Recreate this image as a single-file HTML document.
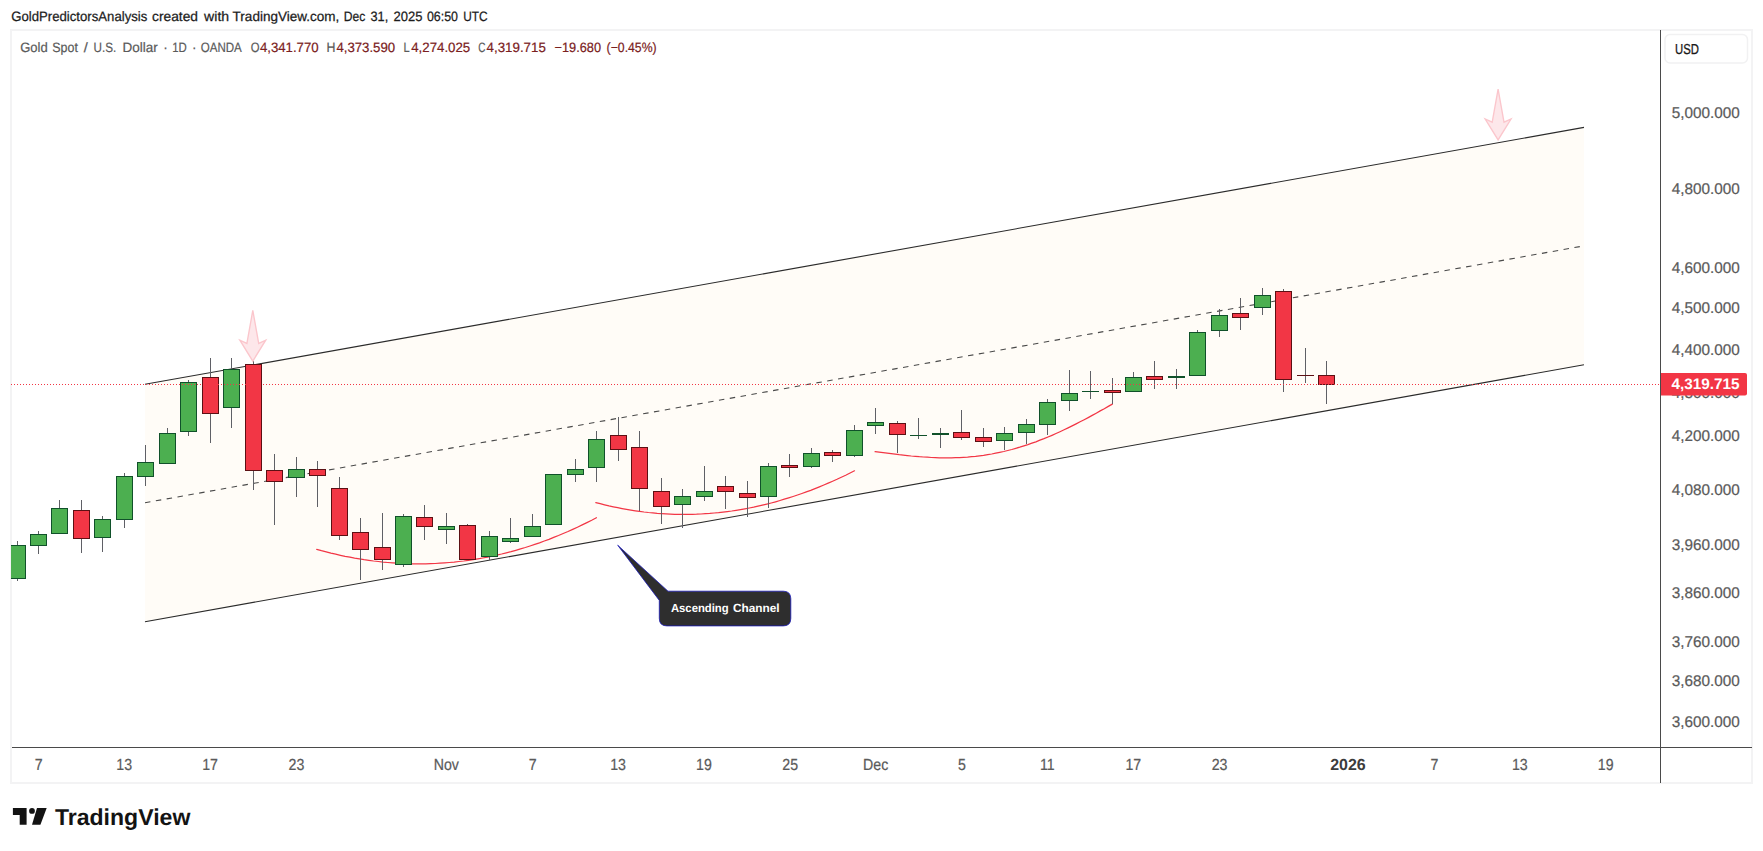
<!DOCTYPE html><html><head><meta charset="utf-8"><title>Gold Spot / U.S. Dollar chart</title><style>html,body{margin:0;padding:0;background:#fff;overflow:hidden}body{width:1763px;height:851px;position:relative}</style></head><body>
<svg width="1763" height="851" viewBox="0 0 1763 851" style="position:absolute;left:0;top:0;font-family:'Liberation Sans',sans-serif;text-rendering:geometricPrecision">
<rect x="0" y="0" width="1763" height="851" fill="#fff"/>
<rect x="11" y="30" width="1741" height="753" fill="none" stroke="#f3f3f4" stroke-width="2"/>
<defs><clipPath id="pane"><rect x="11" y="31" width="1649" height="716"/></clipPath></defs>
<g clip-path="url(#pane)">
<polygon points="145.0,384.3 1584.0,127.40000000000003 1584.0,364.80000000000007 145.0,621.7" fill="#fffcf7"/>
<line x1="145.0" y1="384.3" x2="1584.0" y2="127.40000000000003" stroke="#2b2b2b" stroke-width="1.1"/>
<line x1="145.0" y1="621.7" x2="1584.0" y2="364.80000000000007" stroke="#2b2b2b" stroke-width="1.1"/>
<line x1="145.0" y1="502.75" x2="1584.0" y2="245.85000000000002" stroke="#4a4a4a" stroke-width="1.1" stroke-dasharray="5.5 5.5"/>
<path d="M316.7,549.4 L321.4,550.7 L326.2,551.9 L330.9,553.1 L335.7,554.2 L340.4,555.3 L345.1,556.3 L349.9,557.2 L354.6,558.1 L359.4,558.9 L364.1,559.7 L368.8,560.3 L373.6,561.0 L378.3,561.5 L383.1,562.1 L387.8,562.5 L392.6,562.9 L397.3,563.2 L402.0,563.4 L406.8,563.6 L411.5,563.8 L416.3,563.8 L421.0,563.8 L425.7,563.8 L430.5,563.6 L435.2,563.5 L440.0,563.2 L444.7,562.9 L449.4,562.5 L454.2,562.1 L458.9,561.5 L463.7,561.0 L468.4,560.3 L473.1,559.6 L477.9,558.8 L482.6,558.0 L487.4,557.1 L492.1,556.1 L496.8,555.1 L501.6,554.0 L506.3,552.8 L511.1,551.6 L515.8,550.3 L520.5,548.9 L525.3,547.5 L530.0,546.0 L534.8,544.4 L539.5,542.8 L544.3,541.0 L549.0,539.3 L553.7,537.4 L558.5,535.5 L563.2,533.5 L568.0,531.5 L572.7,529.4 L577.4,527.2 L582.2,524.9 L586.9,522.6 L591.7,520.2 L596.4,517.7" fill="none" stroke="#f23645" stroke-width="1.25" stroke-linecap="round"/>
<path d="M595.8,502.6 L600.2,503.7 L604.6,504.8 L609.0,505.9 L613.3,506.8 L617.7,507.7 L622.1,508.6 L626.5,509.4 L630.9,510.1 L635.3,510.8 L639.6,511.4 L644.0,512.0 L648.4,512.5 L652.8,512.9 L657.2,513.3 L661.6,513.6 L666.0,513.9 L670.3,514.1 L674.7,514.3 L679.1,514.4 L683.5,514.4 L687.9,514.4 L692.3,514.3 L696.6,514.2 L701.0,514.0 L705.4,513.7 L709.8,513.4 L714.2,513.0 L718.6,512.6 L723.0,512.1 L727.3,511.6 L731.7,511.0 L736.1,510.3 L740.5,509.6 L744.9,508.8 L749.3,508.0 L753.7,507.1 L758.0,506.1 L762.4,505.1 L766.8,504.1 L771.2,503.0 L775.6,501.8 L780.0,500.5 L784.3,499.2 L788.7,497.9 L793.1,496.5 L797.5,495.0 L801.9,493.5 L806.3,491.9 L810.7,490.3 L815.0,488.6 L819.4,486.8 L823.8,485.0 L828.2,483.2 L832.6,481.3 L837.0,479.3 L841.3,477.2 L845.7,475.2 L850.1,473.0 L854.5,470.8" fill="none" stroke="#f23645" stroke-width="1.25" stroke-linecap="round"/>
<path d="M875.1,451.7 L879.1,452.2 L883.1,452.7 L887.2,453.2 L891.2,453.7 L895.2,454.2 L899.2,454.7 L903.2,455.1 L907.3,455.6 L911.3,456.0 L915.3,456.3 L919.3,456.7 L923.3,457.0 L927.4,457.2 L931.4,457.5 L935.4,457.6 L939.4,457.8 L943.4,457.8 L947.5,457.9 L951.5,457.8 L955.5,457.7 L959.5,457.6 L963.5,457.3 L967.6,457.1 L971.6,456.7 L975.6,456.3 L979.6,455.8 L983.6,455.3 L987.7,454.6 L991.7,454.0 L995.7,453.2 L999.7,452.4 L1003.8,451.5 L1007.8,450.5 L1011.8,449.5 L1015.8,448.3 L1019.8,447.2 L1023.9,445.9 L1027.9,444.6 L1031.9,443.2 L1035.9,441.8 L1039.9,440.2 L1044.0,438.7 L1048.0,437.0 L1052.0,435.3 L1056.0,433.5 L1060.0,431.7 L1064.1,429.8 L1068.1,427.9 L1072.1,425.9 L1076.1,423.9 L1080.1,421.8 L1084.2,419.7 L1088.2,417.6 L1092.2,415.4 L1096.2,413.2 L1100.2,410.9 L1104.3,408.7 L1108.3,406.4 L1112.3,404.1" fill="none" stroke="#f23645" stroke-width="1.25" stroke-linecap="round"/>
<g shape-rendering="crispEdges">
<rect x="17" y="541" width="1" height="4" fill="#5f6066"/>
<rect x="17" y="579" width="1" height="2" fill="#5f6066"/>
<rect x="9" y="545" width="17" height="34" fill="#10512a"/>
<rect x="10" y="546" width="15" height="32" fill="#4caf50"/>
<rect x="38" y="531" width="1" height="3" fill="#5f6066"/>
<rect x="38" y="546" width="1" height="8" fill="#5f6066"/>
<rect x="30" y="534" width="17" height="12" fill="#10512a"/>
<rect x="31" y="535" width="15" height="10" fill="#4caf50"/>
<rect x="59" y="500" width="1" height="8" fill="#5f6066"/>
<rect x="51" y="508" width="17" height="26" fill="#10512a"/>
<rect x="52" y="509" width="15" height="24" fill="#4caf50"/>
<rect x="81" y="500" width="1" height="10" fill="#5f6066"/>
<rect x="81" y="539" width="1" height="14" fill="#5f6066"/>
<rect x="73" y="510" width="17" height="29" fill="#5c1014"/>
<rect x="74" y="511" width="15" height="27" fill="#f23645"/>
<rect x="102" y="516" width="1" height="3" fill="#5f6066"/>
<rect x="102" y="538" width="1" height="14" fill="#5f6066"/>
<rect x="94" y="519" width="17" height="19" fill="#10512a"/>
<rect x="95" y="520" width="15" height="17" fill="#4caf50"/>
<rect x="124" y="473" width="1" height="3" fill="#5f6066"/>
<rect x="124" y="520" width="1" height="8" fill="#5f6066"/>
<rect x="116" y="476" width="17" height="44" fill="#10512a"/>
<rect x="117" y="477" width="15" height="42" fill="#4caf50"/>
<rect x="145" y="445" width="1" height="17" fill="#5f6066"/>
<rect x="145" y="477" width="1" height="9" fill="#5f6066"/>
<rect x="137" y="462" width="17" height="15" fill="#10512a"/>
<rect x="138" y="463" width="15" height="13" fill="#4caf50"/>
<rect x="167" y="428" width="1" height="5" fill="#5f6066"/>
<rect x="159" y="433" width="17" height="31" fill="#10512a"/>
<rect x="160" y="434" width="15" height="29" fill="#4caf50"/>
<rect x="188" y="380" width="1" height="2" fill="#5f6066"/>
<rect x="188" y="432" width="1" height="4" fill="#5f6066"/>
<rect x="180" y="382" width="17" height="50" fill="#10512a"/>
<rect x="181" y="383" width="15" height="48" fill="#4caf50"/>
<rect x="210" y="358" width="1" height="19" fill="#5f6066"/>
<rect x="210" y="414" width="1" height="29" fill="#5f6066"/>
<rect x="202" y="377" width="17" height="37" fill="#5c1014"/>
<rect x="203" y="378" width="15" height="35" fill="#f23645"/>
<rect x="231" y="358" width="1" height="11" fill="#5f6066"/>
<rect x="231" y="408" width="1" height="20" fill="#5f6066"/>
<rect x="223" y="369" width="17" height="39" fill="#10512a"/>
<rect x="224" y="370" width="15" height="37" fill="#4caf50"/>
<rect x="253" y="361" width="1" height="3" fill="#5f6066"/>
<rect x="253" y="471" width="1" height="19" fill="#5f6066"/>
<rect x="245" y="364" width="17" height="107" fill="#5c1014"/>
<rect x="246" y="365" width="15" height="105" fill="#f23645"/>
<rect x="274" y="454" width="1" height="16" fill="#5f6066"/>
<rect x="274" y="482" width="1" height="43" fill="#5f6066"/>
<rect x="266" y="470" width="17" height="12" fill="#5c1014"/>
<rect x="267" y="471" width="15" height="10" fill="#f23645"/>
<rect x="296" y="457" width="1" height="12" fill="#5f6066"/>
<rect x="296" y="478" width="1" height="19" fill="#5f6066"/>
<rect x="288" y="469" width="17" height="9" fill="#10512a"/>
<rect x="289" y="470" width="15" height="7" fill="#4caf50"/>
<rect x="317" y="461" width="1" height="8" fill="#5f6066"/>
<rect x="317" y="476" width="1" height="31" fill="#5f6066"/>
<rect x="309" y="469" width="17" height="7" fill="#5c1014"/>
<rect x="310" y="470" width="15" height="5" fill="#f23645"/>
<rect x="339" y="477" width="1" height="11" fill="#5f6066"/>
<rect x="339" y="536" width="1" height="4" fill="#5f6066"/>
<rect x="331" y="488" width="17" height="48" fill="#5c1014"/>
<rect x="332" y="489" width="15" height="46" fill="#f23645"/>
<rect x="360" y="518" width="1" height="14" fill="#5f6066"/>
<rect x="360" y="550" width="1" height="30" fill="#5f6066"/>
<rect x="352" y="532" width="17" height="18" fill="#5c1014"/>
<rect x="353" y="533" width="15" height="16" fill="#f23645"/>
<rect x="382" y="513" width="1" height="34" fill="#5f6066"/>
<rect x="382" y="560" width="1" height="10" fill="#5f6066"/>
<rect x="374" y="547" width="17" height="13" fill="#5c1014"/>
<rect x="375" y="548" width="15" height="11" fill="#f23645"/>
<rect x="403" y="514" width="1" height="2" fill="#5f6066"/>
<rect x="403" y="565" width="1" height="2" fill="#5f6066"/>
<rect x="395" y="516" width="17" height="49" fill="#10512a"/>
<rect x="396" y="517" width="15" height="47" fill="#4caf50"/>
<rect x="424" y="505" width="1" height="12" fill="#5f6066"/>
<rect x="424" y="527" width="1" height="13" fill="#5f6066"/>
<rect x="416" y="517" width="17" height="10" fill="#5c1014"/>
<rect x="417" y="518" width="15" height="8" fill="#f23645"/>
<rect x="446" y="513" width="1" height="13" fill="#5f6066"/>
<rect x="446" y="530" width="1" height="14" fill="#5f6066"/>
<rect x="438" y="526" width="17" height="4" fill="#10512a"/>
<rect x="439" y="527" width="15" height="2" fill="#4caf50"/>
<rect x="467" y="524" width="1" height="1" fill="#5f6066"/>
<rect x="459" y="525" width="17" height="35" fill="#5c1014"/>
<rect x="460" y="526" width="15" height="33" fill="#f23645"/>
<rect x="489" y="531" width="1" height="5" fill="#5f6066"/>
<rect x="489" y="557" width="1" height="3" fill="#5f6066"/>
<rect x="481" y="536" width="17" height="21" fill="#10512a"/>
<rect x="482" y="537" width="15" height="19" fill="#4caf50"/>
<rect x="510" y="518" width="1" height="20" fill="#5f6066"/>
<rect x="510" y="542" width="1" height="1" fill="#5f6066"/>
<rect x="502" y="538" width="17" height="4" fill="#10512a"/>
<rect x="503" y="539" width="15" height="2" fill="#4caf50"/>
<rect x="532" y="514" width="1" height="12" fill="#5f6066"/>
<rect x="524" y="526" width="17" height="11" fill="#10512a"/>
<rect x="525" y="527" width="15" height="9" fill="#4caf50"/>
<rect x="545" y="474" width="17" height="51" fill="#10512a"/>
<rect x="546" y="475" width="15" height="49" fill="#4caf50"/>
<rect x="575" y="459" width="1" height="10" fill="#5f6066"/>
<rect x="575" y="475" width="1" height="7" fill="#5f6066"/>
<rect x="567" y="469" width="17" height="6" fill="#10512a"/>
<rect x="568" y="470" width="15" height="4" fill="#4caf50"/>
<rect x="596" y="431" width="1" height="8" fill="#5f6066"/>
<rect x="596" y="468" width="1" height="14" fill="#5f6066"/>
<rect x="588" y="439" width="17" height="29" fill="#10512a"/>
<rect x="589" y="440" width="15" height="27" fill="#4caf50"/>
<rect x="618" y="417" width="1" height="18" fill="#5f6066"/>
<rect x="618" y="450" width="1" height="11" fill="#5f6066"/>
<rect x="610" y="435" width="17" height="15" fill="#5c1014"/>
<rect x="611" y="436" width="15" height="13" fill="#f23645"/>
<rect x="639" y="431" width="1" height="16" fill="#5f6066"/>
<rect x="639" y="489" width="1" height="22" fill="#5f6066"/>
<rect x="631" y="447" width="17" height="42" fill="#5c1014"/>
<rect x="632" y="448" width="15" height="40" fill="#f23645"/>
<rect x="661" y="478" width="1" height="13" fill="#5f6066"/>
<rect x="661" y="507" width="1" height="17" fill="#5f6066"/>
<rect x="653" y="491" width="17" height="16" fill="#5c1014"/>
<rect x="654" y="492" width="15" height="14" fill="#f23645"/>
<rect x="682" y="489" width="1" height="7" fill="#5f6066"/>
<rect x="682" y="505" width="1" height="23" fill="#5f6066"/>
<rect x="674" y="496" width="17" height="9" fill="#10512a"/>
<rect x="675" y="497" width="15" height="7" fill="#4caf50"/>
<rect x="704" y="466" width="1" height="25" fill="#5f6066"/>
<rect x="704" y="497" width="1" height="4" fill="#5f6066"/>
<rect x="696" y="491" width="17" height="6" fill="#10512a"/>
<rect x="697" y="492" width="15" height="4" fill="#4caf50"/>
<rect x="725" y="476" width="1" height="10" fill="#5f6066"/>
<rect x="725" y="492" width="1" height="17" fill="#5f6066"/>
<rect x="717" y="486" width="17" height="6" fill="#5c1014"/>
<rect x="718" y="487" width="15" height="4" fill="#f23645"/>
<rect x="747" y="481" width="1" height="12" fill="#5f6066"/>
<rect x="747" y="498" width="1" height="19" fill="#5f6066"/>
<rect x="739" y="493" width="17" height="5" fill="#5c1014"/>
<rect x="740" y="494" width="15" height="3" fill="#f23645"/>
<rect x="768" y="463" width="1" height="3" fill="#5f6066"/>
<rect x="768" y="497" width="1" height="11" fill="#5f6066"/>
<rect x="760" y="466" width="17" height="31" fill="#10512a"/>
<rect x="761" y="467" width="15" height="29" fill="#4caf50"/>
<rect x="789" y="454" width="1" height="11" fill="#5f6066"/>
<rect x="789" y="468" width="1" height="9" fill="#5f6066"/>
<rect x="781" y="465" width="17" height="3" fill="#5c1014"/>
<rect x="782" y="466" width="15" height="1" fill="#f23645"/>
<rect x="811" y="448" width="1" height="5" fill="#5f6066"/>
<rect x="811" y="467" width="1" height="1" fill="#5f6066"/>
<rect x="803" y="453" width="17" height="14" fill="#10512a"/>
<rect x="804" y="454" width="15" height="12" fill="#4caf50"/>
<rect x="832" y="450" width="1" height="2" fill="#5f6066"/>
<rect x="832" y="456" width="1" height="6" fill="#5f6066"/>
<rect x="824" y="452" width="17" height="4" fill="#5c1014"/>
<rect x="825" y="453" width="15" height="2" fill="#f23645"/>
<rect x="854" y="425" width="1" height="5" fill="#5f6066"/>
<rect x="854" y="456" width="1" height="1" fill="#5f6066"/>
<rect x="846" y="430" width="17" height="26" fill="#10512a"/>
<rect x="847" y="431" width="15" height="24" fill="#4caf50"/>
<rect x="875" y="408" width="1" height="14" fill="#5f6066"/>
<rect x="875" y="426" width="1" height="8" fill="#5f6066"/>
<rect x="867" y="422" width="17" height="4" fill="#10512a"/>
<rect x="868" y="423" width="15" height="2" fill="#4caf50"/>
<rect x="897" y="421" width="1" height="2" fill="#5f6066"/>
<rect x="897" y="435" width="1" height="18" fill="#5f6066"/>
<rect x="889" y="423" width="17" height="12" fill="#5c1014"/>
<rect x="890" y="424" width="15" height="10" fill="#f23645"/>
<rect x="918" y="418" width="1" height="17" fill="#5f6066"/>
<rect x="918" y="436" width="1" height="3" fill="#5f6066"/>
<rect x="910" y="435" width="17" height="1" fill="#10512a"/>
<rect x="940" y="428" width="1" height="5" fill="#5f6066"/>
<rect x="940" y="435" width="1" height="13" fill="#5f6066"/>
<rect x="932" y="433" width="17" height="2" fill="#10512a"/>
<rect x="961" y="410" width="1" height="22" fill="#5f6066"/>
<rect x="961" y="438" width="1" height="2" fill="#5f6066"/>
<rect x="953" y="432" width="17" height="6" fill="#5c1014"/>
<rect x="954" y="433" width="15" height="4" fill="#f23645"/>
<rect x="983" y="428" width="1" height="9" fill="#5f6066"/>
<rect x="983" y="442" width="1" height="5" fill="#5f6066"/>
<rect x="975" y="437" width="17" height="5" fill="#5c1014"/>
<rect x="976" y="438" width="15" height="3" fill="#f23645"/>
<rect x="1004" y="427" width="1" height="6" fill="#5f6066"/>
<rect x="1004" y="441" width="1" height="9" fill="#5f6066"/>
<rect x="996" y="433" width="17" height="8" fill="#10512a"/>
<rect x="997" y="434" width="15" height="6" fill="#4caf50"/>
<rect x="1026" y="419" width="1" height="5" fill="#5f6066"/>
<rect x="1026" y="433" width="1" height="11" fill="#5f6066"/>
<rect x="1018" y="424" width="17" height="9" fill="#10512a"/>
<rect x="1019" y="425" width="15" height="7" fill="#4caf50"/>
<rect x="1047" y="399" width="1" height="3" fill="#5f6066"/>
<rect x="1047" y="425" width="1" height="10" fill="#5f6066"/>
<rect x="1039" y="402" width="17" height="23" fill="#10512a"/>
<rect x="1040" y="403" width="15" height="21" fill="#4caf50"/>
<rect x="1069" y="370" width="1" height="23" fill="#5f6066"/>
<rect x="1069" y="401" width="1" height="10" fill="#5f6066"/>
<rect x="1061" y="393" width="17" height="8" fill="#10512a"/>
<rect x="1062" y="394" width="15" height="6" fill="#4caf50"/>
<rect x="1090" y="371" width="1" height="20" fill="#5f6066"/>
<rect x="1090" y="392" width="1" height="7" fill="#5f6066"/>
<rect x="1082" y="391" width="17" height="1" fill="#10512a"/>
<rect x="1112" y="378" width="1" height="12" fill="#5f6066"/>
<rect x="1112" y="393" width="1" height="11" fill="#5f6066"/>
<rect x="1104" y="390" width="17" height="3" fill="#5c1014"/>
<rect x="1105" y="391" width="15" height="1" fill="#f23645"/>
<rect x="1133" y="372" width="1" height="5" fill="#5f6066"/>
<rect x="1125" y="377" width="17" height="15" fill="#10512a"/>
<rect x="1126" y="378" width="15" height="13" fill="#4caf50"/>
<rect x="1154" y="361" width="1" height="15" fill="#5f6066"/>
<rect x="1154" y="380" width="1" height="9" fill="#5f6066"/>
<rect x="1146" y="376" width="17" height="4" fill="#5c1014"/>
<rect x="1147" y="377" width="15" height="2" fill="#f23645"/>
<rect x="1176" y="369" width="1" height="7" fill="#5f6066"/>
<rect x="1176" y="378" width="1" height="11" fill="#5f6066"/>
<rect x="1168" y="376" width="17" height="2" fill="#10512a"/>
<rect x="1197" y="330" width="1" height="2" fill="#5f6066"/>
<rect x="1189" y="332" width="17" height="44" fill="#10512a"/>
<rect x="1190" y="333" width="15" height="42" fill="#4caf50"/>
<rect x="1219" y="309" width="1" height="6" fill="#5f6066"/>
<rect x="1219" y="331" width="1" height="6" fill="#5f6066"/>
<rect x="1211" y="315" width="17" height="16" fill="#10512a"/>
<rect x="1212" y="316" width="15" height="14" fill="#4caf50"/>
<rect x="1240" y="298" width="1" height="15" fill="#5f6066"/>
<rect x="1240" y="318" width="1" height="12" fill="#5f6066"/>
<rect x="1232" y="313" width="17" height="5" fill="#5c1014"/>
<rect x="1233" y="314" width="15" height="3" fill="#f23645"/>
<rect x="1262" y="288" width="1" height="7" fill="#5f6066"/>
<rect x="1262" y="308" width="1" height="7" fill="#5f6066"/>
<rect x="1254" y="295" width="17" height="13" fill="#10512a"/>
<rect x="1255" y="296" width="15" height="11" fill="#4caf50"/>
<rect x="1283" y="289" width="1" height="2" fill="#5f6066"/>
<rect x="1283" y="380" width="1" height="12" fill="#5f6066"/>
<rect x="1275" y="291" width="17" height="89" fill="#5c1014"/>
<rect x="1276" y="292" width="15" height="87" fill="#f23645"/>
<rect x="1305" y="348" width="1" height="27" fill="#5f6066"/>
<rect x="1305" y="376" width="1" height="7" fill="#5f6066"/>
<rect x="1297" y="375" width="17" height="1" fill="#5c1014"/>
<rect x="1326" y="361" width="1" height="14" fill="#5f6066"/>
<rect x="1326" y="385" width="1" height="19" fill="#5f6066"/>
<rect x="1318" y="375" width="17" height="10" fill="#5c1014"/>
<rect x="1319" y="376" width="15" height="8" fill="#f23645"/>
</g>
<line x1="11" y1="384.5" x2="1661" y2="384.5" stroke="#f23645" stroke-width="1" stroke-dasharray="1 2" shape-rendering="crispEdges"/>
<polygon points="252.8,310.3 258.7,343.4 265.7,340.2 252.8,361.1 239.9,340.2 246.9,343.4" fill="#fde7ea" stroke="#fbc6cc" stroke-width="1.35" stroke-linejoin="miter"/>
<polygon points="1498.1,89.1 1504.0,122.2 1511.0,119.0 1498.1,139.9 1485.2,119.0 1492.2,122.2" fill="#fde7ea" stroke="#fbc6cc" stroke-width="1.35" stroke-linejoin="miter"/>
<path d="M668,591.2 L617.7,545.2 L659.3,600.4000000000001 L659.3,618.4 Q659.3,625.9 666.8,625.9 L783.3,625.9 Q790.8,625.9 790.8,618.4 L790.8,598.7 Q790.8,591.2 783.3,591.2 Z" fill="#2e2e2e" stroke="#1a1ab8" stroke-width="0.8" stroke-linejoin="round"/>
<text x="670.90" y="611.7" font-size="11.8" fill="#fff" font-weight="bold" textLength="57.80" lengthAdjust="spacingAndGlyphs">Ascending</text>
<text x="732.90" y="611.7" font-size="11.8" fill="#fff" font-weight="bold" textLength="46.68" lengthAdjust="spacingAndGlyphs">Channel</text>
</g>
<g shape-rendering="crispEdges"><rect x="1660" y="30" width="1" height="753" fill="#4a4a4a"/><rect x="12" y="747" width="1740" height="1" fill="#4a4a4a"/></g>
<text x="1671.70" y="118.0" font-size="15.5" fill="#5a5a5a" stroke="#5a5a5a" stroke-width="0.22" textLength="68.12" lengthAdjust="spacingAndGlyphs">5,000.000</text>
<text x="1671.70" y="193.7" font-size="15.5" fill="#5a5a5a" stroke="#5a5a5a" stroke-width="0.22" textLength="68.12" lengthAdjust="spacingAndGlyphs">4,800.000</text>
<text x="1671.70" y="272.6" font-size="15.5" fill="#5a5a5a" stroke="#5a5a5a" stroke-width="0.22" textLength="68.12" lengthAdjust="spacingAndGlyphs">4,600.000</text>
<text x="1671.70" y="313.4" font-size="15.5" fill="#5a5a5a" stroke="#5a5a5a" stroke-width="0.22" textLength="68.12" lengthAdjust="spacingAndGlyphs">4,500.000</text>
<text x="1671.70" y="355.0" font-size="15.5" fill="#5a5a5a" stroke="#5a5a5a" stroke-width="0.22" textLength="68.12" lengthAdjust="spacingAndGlyphs">4,400.000</text>
<text x="1671.70" y="397.7" font-size="15.5" fill="#5a5a5a" stroke="#5a5a5a" stroke-width="0.22" textLength="68.12" lengthAdjust="spacingAndGlyphs">4,300.000</text>
<text x="1671.70" y="441.3" font-size="15.5" fill="#5a5a5a" stroke="#5a5a5a" stroke-width="0.22" textLength="68.12" lengthAdjust="spacingAndGlyphs">4,200.000</text>
<text x="1671.70" y="495.1" font-size="15.5" fill="#5a5a5a" stroke="#5a5a5a" stroke-width="0.22" textLength="68.12" lengthAdjust="spacingAndGlyphs">4,080.000</text>
<text x="1671.70" y="550.4" font-size="15.5" fill="#5a5a5a" stroke="#5a5a5a" stroke-width="0.22" textLength="68.12" lengthAdjust="spacingAndGlyphs">3,960.000</text>
<text x="1671.70" y="597.9" font-size="15.5" fill="#5a5a5a" stroke="#5a5a5a" stroke-width="0.22" textLength="68.12" lengthAdjust="spacingAndGlyphs">3,860.000</text>
<text x="1671.70" y="646.5" font-size="15.5" fill="#5a5a5a" stroke="#5a5a5a" stroke-width="0.22" textLength="68.12" lengthAdjust="spacingAndGlyphs">3,760.000</text>
<text x="1671.70" y="686.4" font-size="15.5" fill="#5a5a5a" stroke="#5a5a5a" stroke-width="0.22" textLength="68.12" lengthAdjust="spacingAndGlyphs">3,680.000</text>
<text x="1671.70" y="727.2" font-size="15.5" fill="#5a5a5a" stroke="#5a5a5a" stroke-width="0.22" textLength="68.12" lengthAdjust="spacingAndGlyphs">3,600.000</text>
<path d="M1661,373 H1745 Q1747,373 1747,375 V393.5 Q1747,395.5 1745,395.5 H1661 Z" fill="#f23645"/>
<text x="1671.40" y="389.2" font-size="15.2" fill="#fff" font-weight="bold" textLength="68.14" lengthAdjust="spacingAndGlyphs">4,319.715</text>
<rect x="1665" y="34.5" width="82.5" height="28.5" rx="5" ry="5" fill="#fff" stroke="#f1f1f2" stroke-width="1.5"/>
<text x="1675.11" y="53.9" font-size="14.4" fill="#1a1a1a" textLength="23.90" lengthAdjust="spacingAndGlyphs" stroke="#1a1a1a" stroke-width="0.3">USD</text>
<text x="34.83" y="770.2" font-size="16" fill="#5a5a5a" stroke="#5a5a5a" stroke-width="0.22" textLength="7.88" lengthAdjust="spacingAndGlyphs">7</text>
<text x="116.33" y="770.2" font-size="16" fill="#5a5a5a" stroke="#5a5a5a" stroke-width="0.22" textLength="15.75" lengthAdjust="spacingAndGlyphs">13</text>
<text x="202.21" y="770.2" font-size="16" fill="#5a5a5a" stroke="#5a5a5a" stroke-width="0.22" textLength="15.75" lengthAdjust="spacingAndGlyphs">17</text>
<text x="288.53" y="770.2" font-size="16" fill="#5a5a5a" stroke="#5a5a5a" stroke-width="0.22" textLength="15.75" lengthAdjust="spacingAndGlyphs">23</text>
<text x="433.71" y="770.2" font-size="16" fill="#5a5a5a" stroke="#5a5a5a" stroke-width="0.22" textLength="25.18" lengthAdjust="spacingAndGlyphs">Nov</text>
<text x="528.64" y="770.2" font-size="16" fill="#5a5a5a" stroke="#5a5a5a" stroke-width="0.22" textLength="7.88" lengthAdjust="spacingAndGlyphs">7</text>
<text x="610.14" y="770.2" font-size="16" fill="#5a5a5a" stroke="#5a5a5a" stroke-width="0.22" textLength="15.75" lengthAdjust="spacingAndGlyphs">13</text>
<text x="696.02" y="770.2" font-size="16" fill="#5a5a5a" stroke="#5a5a5a" stroke-width="0.22" textLength="15.75" lengthAdjust="spacingAndGlyphs">19</text>
<text x="782.34" y="770.2" font-size="16" fill="#5a5a5a" stroke="#5a5a5a" stroke-width="0.22" textLength="15.75" lengthAdjust="spacingAndGlyphs">25</text>
<text x="863.11" y="770.2" font-size="16" fill="#5a5a5a" stroke="#5a5a5a" stroke-width="0.22" textLength="25.18" lengthAdjust="spacingAndGlyphs">Dec</text>
<text x="958.04" y="770.2" font-size="16" fill="#5a5a5a" stroke="#5a5a5a" stroke-width="0.22" textLength="7.88" lengthAdjust="spacingAndGlyphs">5</text>
<text x="1040.06" y="770.2" font-size="16" fill="#5a5a5a" stroke="#5a5a5a" stroke-width="0.22" textLength="14.70" lengthAdjust="spacingAndGlyphs">11</text>
<text x="1125.42" y="770.2" font-size="16" fill="#5a5a5a" stroke="#5a5a5a" stroke-width="0.22" textLength="15.75" lengthAdjust="spacingAndGlyphs">17</text>
<text x="1211.74" y="770.2" font-size="16" fill="#5a5a5a" stroke="#5a5a5a" stroke-width="0.22" textLength="15.75" lengthAdjust="spacingAndGlyphs">23</text>
<text x="1330.20" y="770.2" font-size="16" fill="#3c3c3c" font-weight="bold" textLength="35.50" lengthAdjust="spacingAndGlyphs">2026</text>
<text x="1430.38" y="770.2" font-size="16" fill="#5a5a5a" stroke="#5a5a5a" stroke-width="0.22" textLength="7.88" lengthAdjust="spacingAndGlyphs">7</text>
<text x="1511.88" y="770.2" font-size="16" fill="#5a5a5a" stroke="#5a5a5a" stroke-width="0.22" textLength="15.75" lengthAdjust="spacingAndGlyphs">13</text>
<text x="1597.76" y="770.2" font-size="16" fill="#5a5a5a" stroke="#5a5a5a" stroke-width="0.22" textLength="15.75" lengthAdjust="spacingAndGlyphs">19</text>
<text x="11.30" y="21.4" font-size="13.6" fill="#1c1c1c" textLength="136.00" lengthAdjust="spacingAndGlyphs" stroke="#1c1c1c" stroke-width="0.25">GoldPredictorsAnalysis</text>
<text x="152.00" y="21.4" font-size="13.6" fill="#1c1c1c" textLength="45.97" lengthAdjust="spacingAndGlyphs" stroke="#1c1c1c" stroke-width="0.25">created</text>
<text x="204.14" y="21.4" font-size="13.6" fill="#1c1c1c" textLength="25.04" lengthAdjust="spacingAndGlyphs" stroke="#1c1c1c" stroke-width="0.25">with</text>
<text x="232.60" y="21.4" font-size="13.6" fill="#1c1c1c" textLength="106.77" lengthAdjust="spacingAndGlyphs" stroke="#1c1c1c" stroke-width="0.25">TradingView.com,</text>
<text x="343.81" y="21.4" font-size="13.6" fill="#1c1c1c" textLength="21.51" lengthAdjust="spacingAndGlyphs" stroke="#1c1c1c" stroke-width="0.25">Dec</text>
<text x="370.50" y="21.4" font-size="13.6" fill="#1c1c1c" textLength="17.73" lengthAdjust="spacingAndGlyphs" stroke="#1c1c1c" stroke-width="0.25">31,</text>
<text x="393.60" y="21.4" font-size="13.6" fill="#1c1c1c" textLength="28.94" lengthAdjust="spacingAndGlyphs" stroke="#1c1c1c" stroke-width="0.25">2025</text>
<text x="426.90" y="21.4" font-size="13.6" fill="#1c1c1c" textLength="31.10" lengthAdjust="spacingAndGlyphs" stroke="#1c1c1c" stroke-width="0.25">06:50</text>
<text x="463.23" y="21.4" font-size="13.6" fill="#1c1c1c" textLength="24.41" lengthAdjust="spacingAndGlyphs" stroke="#1c1c1c" stroke-width="0.25">UTC</text>
<text x="20.20" y="51.5" font-size="13.6" fill="#5a5a5a" textLength="27.54" lengthAdjust="spacingAndGlyphs" stroke="#5a5a5a" stroke-width="0.2">Gold</text>
<text x="52.30" y="51.5" font-size="13.6" fill="#5a5a5a" textLength="25.60" lengthAdjust="spacingAndGlyphs" stroke="#5a5a5a" stroke-width="0.2">Spot</text>
<text x="83.70" y="51.5" font-size="13.6" fill="#5a5a5a" textLength="4.06" lengthAdjust="spacingAndGlyphs" stroke="#5a5a5a" stroke-width="0.2">/</text>
<text x="93.54" y="51.5" font-size="13.6" fill="#5a5a5a" textLength="22.73" lengthAdjust="spacingAndGlyphs" stroke="#5a5a5a" stroke-width="0.2">U.S.</text>
<text x="122.41" y="51.5" font-size="13.6" fill="#5a5a5a" textLength="35.32" lengthAdjust="spacingAndGlyphs" stroke="#5a5a5a" stroke-width="0.2">Dollar</text>
<text x="163.30" y="51.5" font-size="13.6" fill="#5a5a5a" textLength="4.53" lengthAdjust="spacingAndGlyphs" stroke="#5a5a5a" stroke-width="0.2">·</text>
<text x="172.26" y="51.5" font-size="13.6" fill="#5a5a5a" textLength="14.59" lengthAdjust="spacingAndGlyphs" stroke="#5a5a5a" stroke-width="0.2">1D</text>
<text x="191.90" y="51.5" font-size="13.6" fill="#5a5a5a" textLength="4.53" lengthAdjust="spacingAndGlyphs" stroke="#5a5a5a" stroke-width="0.2">·</text>
<text x="200.70" y="51.5" font-size="13.6" fill="#5a5a5a" textLength="41.11" lengthAdjust="spacingAndGlyphs" stroke="#5a5a5a" stroke-width="0.2">OANDA</text>
<text x="250.80" y="51.5" font-size="13.6" fill="#5a5a5a" textLength="8.78" lengthAdjust="spacingAndGlyphs" stroke="#5a5a5a" stroke-width="0.2">O</text>
<text x="259.90" y="51.5" font-size="13.6" fill="#7a2020" textLength="58.77" lengthAdjust="spacingAndGlyphs" stroke="#7a2020" stroke-width="0.2">4,341.770</text>
<text x="326.59" y="51.5" font-size="13.6" fill="#5a5a5a" textLength="8.96" lengthAdjust="spacingAndGlyphs" stroke="#5a5a5a" stroke-width="0.2">H</text>
<text x="336.40" y="51.5" font-size="13.6" fill="#7a2020" textLength="58.77" lengthAdjust="spacingAndGlyphs" stroke="#7a2020" stroke-width="0.2">4,373.590</text>
<text x="403.39" y="51.5" font-size="13.6" fill="#5a5a5a" textLength="6.16" lengthAdjust="spacingAndGlyphs" stroke="#5a5a5a" stroke-width="0.2">L</text>
<text x="411.20" y="51.5" font-size="13.6" fill="#7a2020" textLength="59.05" lengthAdjust="spacingAndGlyphs" stroke="#7a2020" stroke-width="0.2">4,274.025</text>
<text x="478.30" y="51.5" font-size="13.6" fill="#5a5a5a" textLength="7.17" lengthAdjust="spacingAndGlyphs" stroke="#5a5a5a" stroke-width="0.2">C</text>
<text x="486.60" y="51.5" font-size="13.6" fill="#7a2020" textLength="59.25" lengthAdjust="spacingAndGlyphs" stroke="#7a2020" stroke-width="0.2">4,319.715</text>
<text x="554.50" y="51.5" font-size="13.6" fill="#7a2020" textLength="46.49" lengthAdjust="spacingAndGlyphs" stroke="#7a2020" stroke-width="0.2">−19.680</text>
<text x="606.60" y="51.5" font-size="13.6" fill="#7a2020" textLength="50.08" lengthAdjust="spacingAndGlyphs" stroke="#7a2020" stroke-width="0.2">(−0.45%)</text>
<g fill="#131313">
<path d="M12.9,808 H26.6 V824.8 H19.7 V814.9 H12.9 Z"/>
<circle cx="32" cy="810.9" r="2.9"/>
<path d="M37,808 H46.7 L40.4,824.8 H32 Z"/>
<text x="54.90" y="824.8" font-size="23" fill="#131313" font-weight="bold" textLength="135.49" lengthAdjust="spacingAndGlyphs">TradingView</text>
</g>
</svg>
</body></html>
